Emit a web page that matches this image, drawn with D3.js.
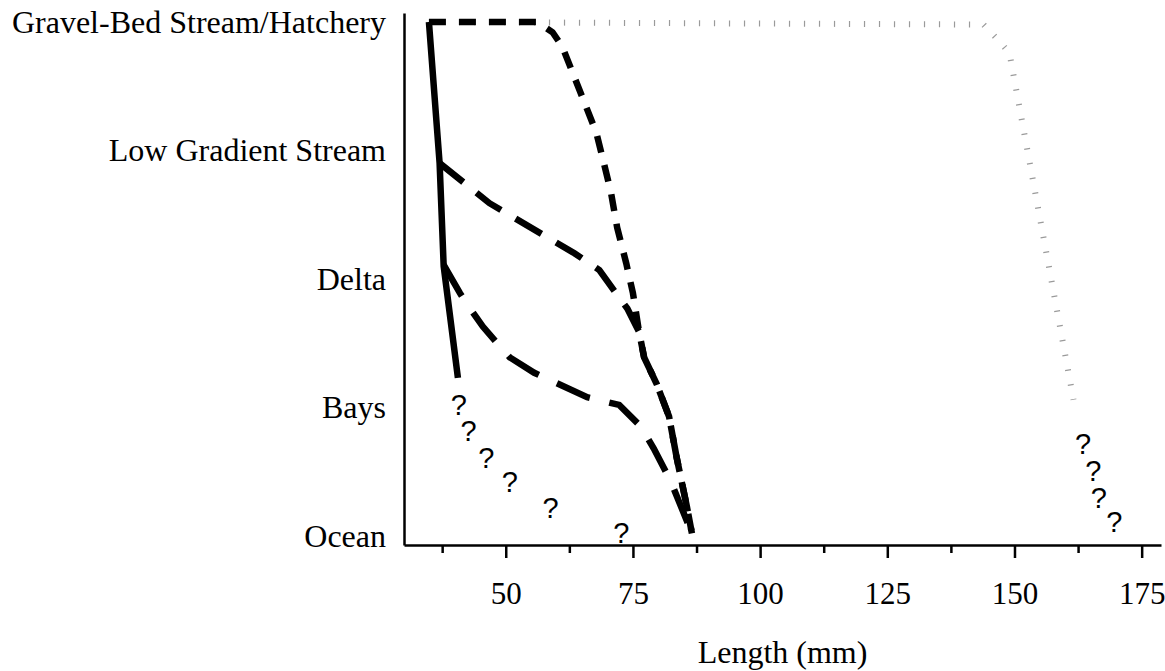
<!DOCTYPE html>
<html>
<head>
<meta charset="utf-8">
<script src="https://cdn.jsdelivr.net/npm/d3@7"></script>
<style>
  html, body { margin: 0; padding: 0; background: #fff; }
  svg { display: block; }
</style>
</head>
<body>
<svg id="chart" width="1165" height="671"></svg>
<script>
// ---------------- data ----------------
const habitats = ["Ocean", "Bays", "Delta", "Low Gradient Stream", "Gravel-Bed Stream/Hatchery"];
const majorTicks = [50, 75, 100, 125, 150, 175];
const minorTicks = [37.5, 62.5, 87.5, 112.5, 137.5, 162.5];
const xTitle = "Length (mm)";

// [length (mm), habitat level (0 = Ocean ... 4 = Gravel-Bed)]
const solidSeries = [[34.9, 4.0], [37.0, 2.9], [37.8, 2.1], [40.6, 1.23]];
const shortDashSeries = [
  [34.9, 4.0], [56.2, 4.0], [59.2, 3.92], [61.1, 3.81], [63.1, 3.61], [65.4, 3.38],
  [67.8, 3.14], [69.3, 2.90], [70.7, 2.67], [71.9, 2.40], [73.7, 2.12], [75.0, 1.89],
  [76.2, 1.59], [77.2, 1.39], [79.7, 1.18], [82.1, 0.93], [83.6, 0.61], [85.6, 0.23], [86.6, 0.02]
];
const lowGradientSeries = [
  [37.05, 2.90], [46.8, 2.59], [63.5, 2.20], [68.4, 2.07], [71.3, 1.91], [73.9, 1.77],
  [76.2, 1.59], [77.2, 1.39], [79.7, 1.18], [82.1, 0.93], [83.6, 0.61], [85.6, 0.23], [86.6, 0.02]
];
const deltaSeries = [
  [37.8, 2.11], [41.0, 1.89], [42.3, 1.81], [45.5, 1.63], [49.2, 1.46], [50.8, 1.39],
  [55.6, 1.27], [66.0, 1.08], [72.3, 1.02], [76.6, 0.85], [79.1, 0.68], [82.5, 0.42], [86.6, 0.02]
];
const hatcherySeries = [[34.9, 4.0], [143.9, 3.98], [146.8, 3.86], [149.0, 3.76], [161.6, 1.06]];
const questionsLeft = [[40.8, 1.02], [42.7, 0.82], [46.2, 0.61], [50.8, 0.42], [58.8, 0.22], [72.7, 0.03]];
const questionsRight = [[163.5, 0.72], [165.5, 0.51], [166.6, 0.30], [169.6, 0.11]];

// ---------------- layout ----------------
const svg = d3.select("#chart");
const x = d3.scaleLinear().domain([30, 178.8]).range([404, 1161]);
const y = d3.scaleLinear().domain([-0.07, 4.07]).range([545, 13]);
const serif = "'Liberation Serif', 'Times New Roman', Times, serif";
const sans = "'Liberation Sans', Arial, Helvetica, sans-serif";
const fontSize = 32;
const tickFontSize = 31;

const line = d3.line().x(d => x(d[0])).y(d => y(d[1]));

// hatchery (gray tick-dotted) line
svg.append("path")
  .datum(hatcherySeries)
  .attr("d", line)
  .attr("fill", "none")
  .attr("stroke", "#9a9a9a")
  .attr("stroke-width", 6)
  .attr("stroke-dasharray", "1.2 13.8");

const thick = 6.5;
function drawSeries(data, dash) {
  svg.append("path")
    .datum(data)
    .attr("d", line)
    .attr("fill", "none")
    .attr("stroke", "#000")
    .attr("stroke-width", thick)
    .attr("stroke-linejoin", "miter")
    .attr("stroke-linecap", "butt")
    .attr("stroke-dasharray", dash);
}
drawSeries(shortDashSeries, "17 13");
drawSeries(lowGradientSeries, "30 17");
drawSeries(deltaSeries, "36 20");
drawSeries(solidSeries, null);

// question marks
svg.append("g").selectAll("text")
  .data(questionsLeft.concat(questionsRight))
  .join("text")
  .attr("x", d => x(d[0]))
  .attr("y", d => y(d[1]))
  .attr("dy", "0.36em")
  .attr("text-anchor", "middle")
  .style("font-family", sans)
  .style("font-size", "29px")
  .attr("fill", "#000")
  .text("?");

// x axis (major ticks + labels)
const xAxisG = svg.append("g")
  .attr("transform", `translate(0,${y.range()[0]})`)
  .call(d3.axisBottom(x).tickValues(majorTicks).tickSize(13).tickSizeOuter(0).tickPadding(24).tickFormat(d3.format("d")));
xAxisG.select(".domain").attr("stroke", "#000").attr("stroke-width", 2.5);
xAxisG.selectAll(".tick line").attr("stroke", "#000").attr("stroke-width", 2.5);
xAxisG.selectAll(".tick text")
  .style("font-family", serif)
  .style("font-size", tickFontSize + "px")
  .attr("fill", "#000");

// minor ticks
const xMinorG = svg.append("g")
  .attr("transform", `translate(0,${y.range()[0]})`)
  .call(d3.axisBottom(x).tickValues(minorTicks).tickSize(8).tickSizeOuter(0).tickFormat(""));
xMinorG.select(".domain").remove();
xMinorG.selectAll(".tick line").attr("stroke", "#000").attr("stroke-width", 2.5);

// y axis (labels, no ticks)
const yAxisG = svg.append("g")
  .attr("transform", `translate(${x.range()[0]},0)`)
  .call(d3.axisLeft(y).tickValues(d3.range(habitats.length)).tickSize(0).tickSizeOuter(0).tickPadding(18).tickFormat(i => habitats[i]));
yAxisG.select(".domain").attr("stroke", "#000").attr("stroke-width", 2.5);
yAxisG.selectAll(".tick text")
  .style("font-family", serif)
  .style("font-size", fontSize + "px")
  .attr("fill", "#000");

// x title
svg.append("text")
  .attr("x", (x.range()[0] + x.range()[1]) / 2)
  .attr("y", 663)
  .attr("text-anchor", "middle")
  .style("font-family", serif)
  .style("font-size", fontSize + "px")
  .attr("fill", "#000")
  .text(xTitle);
</script>
</body>
</html>
